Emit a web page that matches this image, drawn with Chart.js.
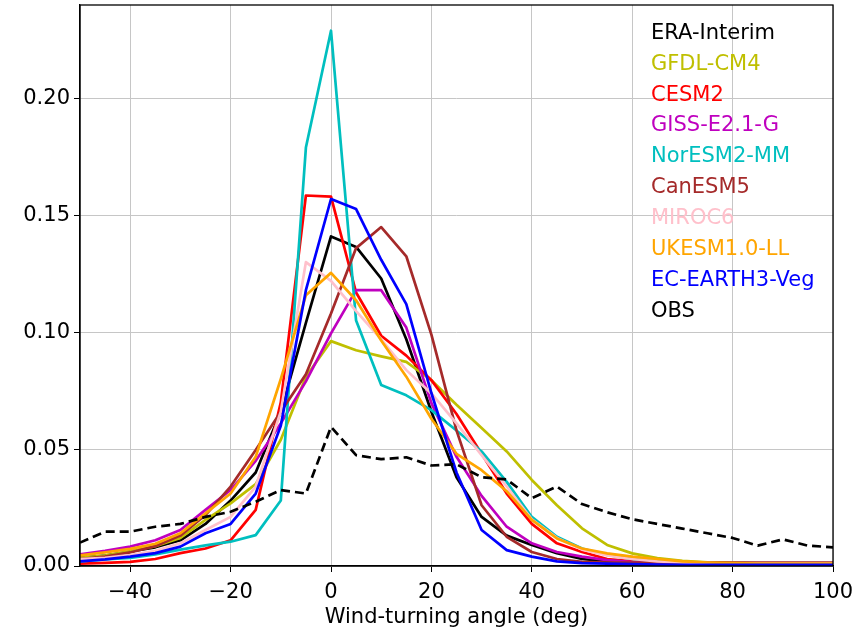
<!DOCTYPE html>
<html><head><meta charset="utf-8">
<script src="https://cdn.jsdelivr.net/npm/chart.js@4.4.0/dist/chart.umd.min.js"></script>
<style>html,body{margin:0;padding:0;background:#fff;}#wrap{width:860px;height:631px;}</style>
</head><body><div id="wrap"><canvas id="c" width="860" height="631"></canvas></div>
<script>
// Wind-turning angle bins (deg)
const angles = [-50,-45,-40,-35,-30,-25,-20,-15,-10,-5,0,5,10,15,20,25,30,35,40,45,50,55,60,65,70,75,80,85,90,95,100];

const eraInterim = [0.0035,0.0045,0.0062,0.008,0.011,0.018,0.028,0.040,0.066,0.104,0.141,0.1365,0.123,0.097,0.066,0.038,0.021,0.013,0.009,0.0055,0.003,0.002,0.0015,0.0012,0.001,0.001,0.001,0.001,0.001,0.001,0.001];
const gfdlCM4 = [0.0035,0.0045,0.0063,0.0085,0.012,0.0197,0.0268,0.035,0.054,0.081,0.0962,0.0923,0.0897,0.0873,0.0795,0.069,0.059,0.049,0.0368,0.026,0.0161,0.009,0.0054,0.0034,0.0022,0.0016,0.0013,0.0011,0.001,0.001,0.001];
const cesm2 = [0.001,0.0013,0.0018,0.003,0.0055,0.0075,0.011,0.024,0.070,0.1585,0.158,0.117,0.0985,0.090,0.0795,0.065,0.048,0.031,0.018,0.0097,0.006,0.003,0.002,0.0015,0.001,0.001,0.0009,0.0008,0.0008,0.0008,0.0008];
const giss = [0.005,0.0065,0.0083,0.011,0.0154,0.024,0.0325,0.045,0.061,0.079,0.0995,0.118,0.118,0.102,0.0697,0.0467,0.030,0.0168,0.0097,0.006,0.004,0.0025,0.0017,0.0012,0.001,0.001,0.001,0.001,0.001,0.001,0.001];
const norESM = [0.002,0.0028,0.0035,0.005,0.007,0.0088,0.0104,0.0132,0.028,0.179,0.229,0.105,0.0774,0.073,0.0667,0.058,0.049,0.036,0.021,0.0125,0.0075,0.0047,0.003,0.002,0.0015,0.0012,0.001,0.001,0.001,0.001,0.001];
const canESM5 = [0.003,0.004,0.0058,0.0085,0.013,0.0218,0.034,0.0496,0.066,0.082,0.108,0.136,0.145,0.1325,0.099,0.058,0.026,0.0125,0.006,0.003,0.0018,0.0015,0.0015,0.0015,0.0015,0.0015,0.0015,0.0015,0.0015,0.0015,0.0015];
const miroc6 = [0.003,0.0035,0.0047,0.0065,0.0097,0.0154,0.021,0.034,0.066,0.130,0.122,0.109,0.097,0.0838,0.0738,0.061,0.0474,0.034,0.020,0.012,0.007,0.0045,0.003,0.002,0.0015,0.0012,0.001,0.001,0.001,0.001,0.001];
const ukesm = [0.0045,0.0058,0.0073,0.0095,0.014,0.0225,0.031,0.0467,0.080,0.1158,0.1254,0.1137,0.0965,0.081,0.063,0.048,0.041,0.032,0.0197,0.0118,0.0075,0.0054,0.004,0.003,0.002,0.0015,0.0012,0.001,0.001,0.001,0.001];
const ecEarth = [0.002,0.0028,0.004,0.0055,0.0083,0.014,0.018,0.031,0.060,0.118,0.157,0.1527,0.131,0.112,0.074,0.040,0.0154,0.0068,0.004,0.002,0.0012,0.001,0.0008,0.0006,0.0005,0.0005,0.0005,0.0005,0.0005,0.0005,0.0005];
const obs = [0.010,0.0147,0.0147,0.0168,0.018,0.021,0.0232,0.0275,0.0325,0.031,0.0595,0.0474,0.0457,0.0465,0.043,0.0435,0.038,0.037,0.029,0.034,0.0265,0.023,0.020,0.018,0.016,0.014,0.012,0.0087,0.0114,0.0087,0.008];

const seriesNames = ['ERA-Interim','GFDL-CM4','CESM2','GISS-E2.1-G','NorESM2-MM','CanESM5','MIROC6','UKESM1.0-LL','EC-EARTH3-Veg','OBS'];
const seriesValues = [eraInterim,gfdlCM4,cesm2,giss,norESM,canESM5,miroc6,ukesm,ecEarth,obs];
const seriesColors = ['#000000','#bfbf00','#ff0000','#bf00bf','#00bfbf','#a52a2a','#ffc0cb','#ffa500','#0000ff','#000000'];
const seriesDashed = [false,false,false,false,false,false,false,false,false,true];

const xTicks = [-40,-20,0,20,40,60,80,100];
const yTicks = [0,0.05,0.10,0.15,0.20];
const xLabel = 'Wind-turning angle (deg)';

const FONT = '"DejaVu Sans", sans-serif';
const FS = 21;

const datasets = seriesValues.map((vals,i)=>({
  label: seriesNames[i],
  data: vals.map((v,j)=>({x: angles[j], y: v})),
  borderColor: seriesColors[i],
  backgroundColor: seriesColors[i],
  borderWidth: 2.7,
  borderDash: seriesDashed[i] ? [9,5] : [],
  borderCapStyle: 'butt',
  borderJoinStyle: 'round',
  pointRadius: 0,
  tension: 0,
  fill: false,
  order: seriesValues.length - i
}));

const overlay = {
  id: 'overlay',
  afterDraw(chart){
    const {ctx, chartArea: a} = chart;
    ctx.save();
    ctx.strokeStyle = '#000';
    ctx.lineWidth = 1.3;
    ctx.strokeRect(a.left, a.top, a.right - a.left, a.bottom - a.top);
    ctx.font = FS + 'px ' + FONT;
    ctx.textBaseline = 'middle';
    ctx.textAlign = 'left';
    seriesNames.forEach((n,i)=>{
      ctx.fillStyle = seriesColors[i];
      ctx.fillText(n, a.right - 182, a.top + 28.3 + i*30.9);
    });
    ctx.restore();
  }
};

new Chart(document.getElementById('c'), {
  type: 'line',
  data: { datasets },
  options: {
    responsive: false,
    animation: false,
    devicePixelRatio: 1,
    layout: { padding: { top: 5, right: 27, left: 0, bottom: 0 } },
    plugins: { legend: { display: false }, tooltip: { enabled: false } },
    scales: {
      x: {
        type: 'linear', min: -50, max: 100,
        afterBuildTicks: s => { s.ticks = xTicks.map(v=>({value:v})); },
        afterFit: s => { s.height = 65; s.paddingLeft = 0; s.paddingRight = 0; },
        grid: { color: '#c6c6c6', lineWidth: 1, tickColor: '#000', tickLength: 6, drawTicks: true },
        border: { display: true, color: '#000', width: 1.3 },
        ticks: { color: '#000', font: { family: FONT, size: FS }, padding: 8, maxRotation: 0, autoSkip: false,
                 callback: v => (v < 0 ? '\u2212' + Math.abs(v) : String(v)) },
        title: { display: true, text: xLabel, color: '#000', font: { family: FONT, size: FS, lineHeight: 1.2 }, padding: { top: 0, bottom: 1 } }
      },
      y: {
        type: 'linear', min: 0, max: 0.24,
        afterBuildTicks: s => { s.ticks = yTicks.map(v=>({value:v})); },
        afterFit: s => { s.width = 80; s.paddingTop = 0; s.paddingBottom = 0; },
        grid: { color: '#c6c6c6', lineWidth: 1, tickColor: '#000', tickLength: 6, drawTicks: true },
        border: { display: true, color: '#000', width: 1.3 },
        ticks: { color: '#000', font: { family: FONT, size: FS }, padding: 4, autoSkip: false,
                 callback: v => Number(v).toFixed(2) }
      }
    }
  },
  plugins: [overlay]
});
</script></body></html>
